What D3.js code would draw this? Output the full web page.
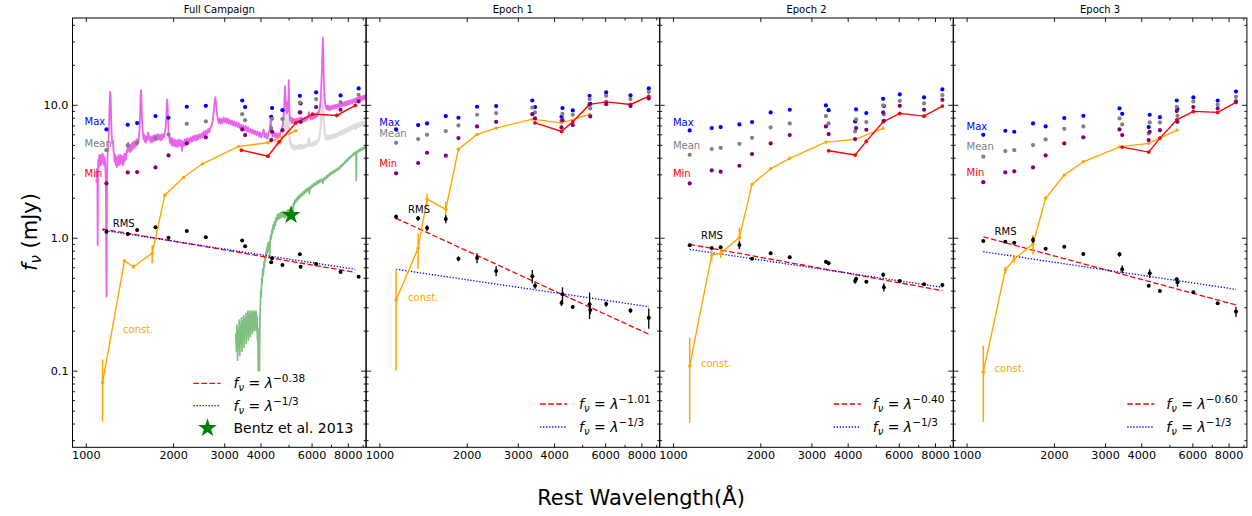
<!DOCTYPE html>
<html>
<head>
<meta charset="utf-8">
<script src="https://cdn.jsdelivr.net/npm/d3@7"></script>
<style>
  body { margin: 0; background: #fff; }
  svg { display: block; font-family: "DejaVu Sans", sans-serif; }
</style>
</head>
<body>
<svg id="chart" width="1252" height="516"></svg>
<script>
/* ---- data ---- */

// band wavelengths (rest frame) and the observed-frame ones used in the first panel
const bandWave = [1142, 1360, 1460, 1694, 1873, 2171, 2526, 3366, 3439, 4244, 4277, 4639, 5302, 5331, 6048, 7336, 8482];
const bandWaveObs = [1178, 1395, 1503, 1739, 1928, 2229, 2593, 3460, 3541, 4356, 4386, 4762, 5468, 5498, 6222, 7553, 8717];
const constWave = [1142, 1360, 1460, 1694, 1873, 2171, 2526, 3366, 4244, 5302];
const redWave = [3439, 4244, 4639, 5302, 6048, 7336, 8482];
const fitWave = [1142, 8482];

// Full campaign
const maxFull = [6.53, 7.08, 7.29, 8.23, 7.99, 9.67, 9.83, 10.78, 9.61, 8.13, 9.45, 9.12, 11.69, 10.24, 12.39, 11.76, 13.28];
const meanFull = [4.56, 4.95, 5.18, 5.59, 5.99, 7.20, 7.50, 8.51, 7.67, 6.64, 7.85, 7.81, 10.4, 8.76, 11.04, 10.5, 11.9];
const minFull = [2.56, 3.10, 3.12, 3.38, 4.16, 5.12, 5.69, 6.53, 5.92, 5.43, 6.27, 6.45, 8.76, 7.45, 9.61, 9.18, 10.60];
const rmsFull = [1.109, 1.066, 1.143, 1.197, 1.0, 1.123, 1.007, 0.953, 0.862, 0.653, 0.700, 0.623, 0.750, 0.605, 0.634, 0.552, 0.509];
const rmsErrFull = [0.01, 0.01, 0.01, 0.015, 0.01, 0.01, 0.01, 0.01, 0.01, 0.01, 0.01, 0.005, 0.01, 0.01, 0.005, 0.005, 0.008];
const constFull = [0.0813, 0.668, 0.605, 0.763, 2.09, 2.84, 3.60, 4.87, 5.18, 6.38];
const constErrFull = [0.04, 0.02, 0.02, 0.12, 0.03, 0.03, 0.03, 0.03, 0.03, 0.03];
const redFull = [4.56, 4.11, 5.27, 7.32, 8.51, 8.32, 9.90];
const fitRedFull = [1.163, 0.549];
const fitBlueFull = [1.14, 0.579];

// Epoch 1
const maxE1 = [6.53, 7.04, 7.24, 8.23, 7.99, 9.67, 9.78, 10.78, 9.61, 8.13, 9.45, 9.07, 11.69, 10.18, 12.39, 11.76, 13.28];
const meanE1 = [5.18, 5.52, 5.95, 6.34, 7.00, 8.42, 8.66, 9.55, 8.76, 7.63, 8.56, 8.42, 11.04, 9.39, 11.69, 11.04, 12.53];
const minE1 = [3.05, 3.65, 4.36, 4.14, 5.62, 6.88, 7.45, 8.51, 7.90, 6.76, 7.67, 7.04, 10.06, 8.18, 10.12, 9.78, 11.16];
const rmsE1 = [1.438, 1.399, 1.183, 1.382, 0.694, 0.704, 0.562, 0.513, 0.436, 0.323, 0.375, 0.301, 0.316, 0.286, 0.317, 0.283, 0.250];
const rmsErrE1 = [0.06, 0.06, 0.06, 0.095, 0.03, 0.06, 0.05, 0.058, 0.023, 0.017, 0.049, 0.008, 0.071, 0.02, 0.014, 0.012, 0.043];
const constE1 = [0.340, 0.832, 1.954, 1.635, 4.64, 5.99, 6.68, 7.81, 7.32, 8.47];
const constErrE1 = [0.24, 0.25, 0.2, 0.24, 0.05, 0.05, 0.05, 0.05, 0.05, 0.05];
const redE1 = [7.32, 6.31, 7.45, 10.07, 10.53, 10.07, 11.57];
const fitRedE1 = [1.40, 0.188];
const fitBlueE1 = [0.579, 0.303];

// Epoch 2
const maxE2 = [6.42, 6.68, 6.80, 7.12, 7.41, 8.76, 9.18, 9.89, 9.12, 7.50, 9.23, 8.66, 11.10, 9.78, 11.97, 11.36, 13.05];
const meanE2 = [4.21, 4.65, 4.75, 5.09, 5.65, 6.76, 7.24, 8.23, 7.24, 6.31, 7.76, 7.41, 9.89, 8.47, 10.72, 10.24, 11.83];
const minE2 = [2.56, 3.21, 3.14, 3.48, 4.26, 5.12, 5.92, 6.88, 6.02, 5.52, 6.68, 6.49, 8.76, 7.59, 9.83, 9.18, 10.91];
const rmsE2 = [0.877, 0.837, 0.848, 0.881, 0.695, 0.763, 0.712, 0.660, 0.642, 0.473, 0.489, 0.467, 0.527, 0.424, 0.473, 0.446, 0.441];
const rmsErrE2 = [0.015, 0.015, 0.02, 0.06, 0.012, 0.02, 0.02, 0.02, 0.02, 0.022, 0.02, 0.01, 0.02, 0.03, 0.01, 0.01, 0.012];
const constE2 = [0.1085, 0.741, 0.763, 1.007, 2.52, 3.30, 3.96, 5.24, 5.50, 6.65];
const constErrE2 = [0.068, 0.065, 0.06, 0.18, 0.03, 0.03, 0.03, 0.03, 0.03, 0.03];
const redE2 = [4.51, 4.19, 5.31, 7.45, 8.62, 8.22, 9.78];
const fitRedE2 = [0.892, 0.40];
const fitBlueE2 = [0.818, 0.424];

// Epoch 3
const maxE3 = [5.95, 6.38, 6.27, 7.24, 6.88, 7.95, 8.27, 9.39, 8.56, 6.80, 8.42, 8.08, 10.78, 9.34, 11.36, 10.78, 12.60];
const meanE3 = [4.07, 4.49, 4.56, 4.98, 5.49, 6.60, 6.88, 7.90, 7.12, 6.09, 7.37, 7.37, 9.67, 8.27, 10.60, 10.06, 11.49];
const minE3 = [2.62, 3.10, 3.16, 3.38, 4.16, 5.12, 5.69, 6.53, 5.92, 5.43, 6.27, 6.45, 8.97, 7.45, 9.61, 9.39, 10.60];
const rmsE3 = [0.944, 0.932, 0.917, 0.961, 0.827, 0.856, 0.754, 0.750, 0.579, 0.436, 0.540, 0.397, 0.487, 0.462, 0.389, 0.321, 0.278];
const rmsErrE3 = [0.012, 0.012, 0.015, 0.05, 0.02, 0.02, 0.012, 0.03, 0.04, 0.01, 0.04, 0.008, 0.012, 0.035, 0.008, 0.008, 0.025];
const constE3 = [0.0973, 0.572, 0.692, 0.897, 1.98, 2.96, 3.73, 4.83, 5.13, 6.45];
const constErrE3 = [0.056, 0.035, 0.05, 0.15, 0.03, 0.03, 0.03, 0.03, 0.03, 0.03];
const redE3 = [4.81, 4.41, 5.62, 7.71, 8.92, 8.77, 10.42];
const fitRedE3 = [1.017, 0.312];
const fitBlueE3 = [0.785, 0.409];

// Bentz et al. 2013 host flux at 5100 A
const bentzPoint = [5100, 1.48];

// spectra in the first panel: [wavelength, flux]
const meanSpec = [[1088,2.6],[1092,3.3],[1096,3.0],[1099,0.88],[1102,3.5],[1106,3.9],[1110,3.4],[1114,4.2],[1118,3.6],[1123,4.1],[1128,3.5],[1133,4.2],[1138,3.7],[1143,4.3],[1148,3.6],[1153,4.1],[1158,3.5],[1163,4.0],[1168,3.3],[1173,2.6],[1177,0.6],[1179,0.36],[1181,0.8],[1184,2.9],[1188,4.0],[1193,4.6],[1198,5.4],[1203,7.0],[1208,9.8],[1213,12.5],[1218,11.8],[1223,8.0],[1228,6.0],[1234,5.1],[1240,5.4],[1246,4.6],[1252,4.2],[1258,3.7],[1264,4.2],[1270,3.5],[1276,4.0],[1282,3.4],[1288,4.1],[1294,3.6],[1300,4.2],[1306,3.5],[1312,4.0],[1318,3.6],[1324,4.2],[1330,3.7],[1336,4.1],[1342,3.5],[1348,4.1],[1354,3.7],[1360,4.3],[1366,3.8],[1372,4.3],[1378,3.9],[1384,4.5],[1390,4.4],[1396,5.0],[1402,5.2],[1408,4.5],[1414,5.0],[1420,4.4],[1427,5.0],[1434,4.5],[1441,5.1],[1448,4.6],[1455,5.2],[1462,4.7],[1469,5.3],[1476,4.8],[1483,5.3],[1490,4.9],[1497,5.5],[1504,5.0],[1511,5.5],[1518,5.2],[1525,5.8],[1532,6.6],[1539,8.5],[1545,11.5],[1550,12.9],[1555,11.0],[1561,8.2],[1567,6.8],[1574,6.1],[1581,5.5],[1588,6.0],[1595,5.3],[1603,5.8],[1611,5.2],[1619,5.7],[1627,5.4],[1635,6.0],[1642,6.2],[1650,5.8],[1658,5.4],[1667,5.8],[1676,5.2],[1685,5.7],[1694,5.3],[1703,5.8],[1712,5.3],[1721,5.9],[1730,5.4],[1740,5.9],[1750,5.4],[1760,6.0],[1770,5.5],[1780,6.0],[1790,5.5],[1800,5.9],[1812,5.4],[1824,6.0],[1836,5.5],[1848,6.0],[1860,5.7],[1872,6.2],[1884,6.6],[1895,8.2],[1903,10.2],[1909,11.0],[1915,9.5],[1922,7.4],[1930,6.2],[1940,5.6],[1950,5.2],[1962,5.7],[1974,5.0],[1986,5.6],[1998,4.9],[2012,5.5],[2026,4.9],[2040,5.4],[2055,4.8],[2070,5.4],[2085,4.9],[2100,5.5],[2116,4.9],[2132,5.4],[2148,4.5],[2164,5.3],[2180,4.9],[2196,5.5],[2213,5.0],[2230,5.6],[2248,5.1],[2266,5.6],[2284,5.2],[2303,5.7],[2322,5.3],[2341,5.8],[2360,5.4],[2380,5.9],[2400,5.4],[2420,5.9],[2441,5.5],[2462,6.0],[2483,5.6],[2505,6.1],[2527,5.7],[2549,6.3],[2572,5.8],[2595,6.4],[2618,6.0],[2641,6.6],[2665,6.2],[2689,6.8],[2713,6.9],[2738,7.6],[2762,9.0],[2784,10.8],[2798,11.4],[2812,10.4],[2830,8.8],[2850,7.8],[2872,7.3],[2894,7.9],[2916,7.2],[2939,7.8],[2962,7.3],[2986,8.0],[3010,7.4],[3035,7.9],[3060,7.3],[3086,7.9],[3112,7.2],[3138,7.7],[3165,7.1],[3192,7.6],[3220,7.0],[3248,7.5],[3277,6.9],[3306,7.4],[3336,6.8],[3366,7.3],[3397,6.7],[3428,7.1],[3460,6.5],[3492,7.0],[3525,6.4],[3558,6.9],[3592,6.3],[3626,6.8],[3660,6.2],[3695,6.6],[3730,6.1],[3766,6.5],[3802,6.0],[3838,6.4],[3875,5.9],[3912,6.3],[3950,5.8],[3988,6.2],[4026,5.7],[4065,6.1],[4102,6.5],[4140,5.7],[4180,6.1],[4220,5.6],[4260,6.1],[4300,6.4],[4325,7.2],[4340,8.0],[4358,7.0],[4385,6.2],[4420,5.8],[4460,6.2],[4500,5.7],[4540,6.1],[4580,5.6],[4620,6.1],[4660,5.8],[4700,6.3],[4740,6.5],[4780,7.2],[4815,8.8],[4845,12.0],[4861,13.8],[4880,11.5],[4910,9.0],[4940,8.6],[4959,10.5],[4980,9.0],[4995,11.5],[5007,15.3],[5020,11.0],[5040,8.5],[5065,7.6],[5095,8.0],[5125,7.3],[5155,7.9],[5186,7.3],[5217,7.8],[5248,7.2],[5280,7.8],[5312,7.3],[5345,7.9],[5378,7.4],[5411,7.9],[5445,7.4],[5479,8.0],[5513,7.5],[5548,8.0],[5583,7.4],[5618,7.9],[5654,7.5],[5690,8.0],[5726,7.6],[5763,8.1],[5800,7.7],[5840,8.2],[5876,8.8],[5910,8.0],[5950,7.8],[5990,8.3],[6030,7.8],[6070,8.4],[6110,7.9],[6150,8.5],[6190,8.0],[6230,8.6],[6270,8.2],[6310,8.8],[6350,8.6],[6390,9.2],[6420,9.8],[6450,11.0],[6480,13.5],[6510,18.0],[6540,25.0],[6563,32.0],[6585,24.0],[6610,16.0],[6640,12.0],[6675,10.4],[6710,9.8],[6750,9.3],[6790,9.9],[6830,9.2],[6870,9.8],[6910,9.1],[6950,9.7],[6990,9.2],[7030,9.8],[7075,9.3],[7120,9.9],[7165,9.4],[7210,10.0],[7255,9.4],[7300,10.0],[7350,9.5],[7400,10.1],[7450,9.6],[7500,10.2],[7550,9.7],[7600,10.3],[7650,9.8],[7700,10.4],[7755,9.8],[7810,10.5],[7865,9.9],[7920,10.6],[7975,10.0],[8030,10.7],[8085,10.1],[8140,10.8],[8195,10.2],[8250,10.9],[8305,10.3],[8360,11.0],[8415,10.5],[8470,11.1],[8530,10.4],[8590,11.3],[8650,10.6],[8710,11.4],[8770,10.7],[8830,11.5],[8890,10.8],[8950,11.6],[9010,10.9],[9070,11.7],[9130,11.0],[9190,11.8],[9240,11.2]];

const agnSpec = [[3980,6.0],[4020,5.7],[4060,5.9],[4102,6.3],[4140,5.7],[4180,5.8],[4220,5.5],[4260,5.7],[4300,6.0],[4325,6.5],[4340,7.0],[4358,6.3],[4385,5.7],[4420,5.4],[4460,5.5],[4500,5.2],[4540,5.3],[4580,5.0],[4620,5.2],[4660,5.0],[4700,5.2],[4740,5.4],[4780,5.9],[4815,6.8],[4845,8.3],[4861,9.0],[4880,7.8],[4910,6.4],[4940,6.1],[4959,7.2],[4980,6.3],[4995,7.8],[5007,10.0],[5020,7.3],[5040,5.8],[5065,5.1],[5095,5.2],[5125,4.8],[5155,5.0],[5186,4.7],[5217,4.9],[5248,4.6],[5280,4.9],[5312,4.7],[5345,4.9],[5378,4.7],[5411,4.9],[5445,4.7],[5479,5.0],[5513,4.7],[5548,5.0],[5583,4.7],[5618,4.9],[5654,4.8],[5690,5.0],[5726,4.8],[5763,5.0],[5800,4.9],[5840,5.1],[5876,5.6],[5910,5.0],[5950,4.9],[5990,5.1],[6030,4.9],[6070,5.2],[6110,5.0],[6150,5.2],[6190,5.0],[6230,5.3],[6270,5.2],[6310,5.4],[6350,5.4],[6390,5.8],[6420,6.2],[6450,6.8],[6480,8.0],[6510,9.5],[6540,11.0],[6563,12.0],[6585,10.0],[6610,8.0],[6640,6.8],[6675,6.0],[6710,5.7],[6750,5.5],[6790,5.8],[6830,5.5],[6870,5.8],[6910,5.5],[6950,5.8],[6990,5.6],[7030,5.9],[7075,5.6],[7120,5.9],[7165,5.7],[7210,6.0],[7255,5.7],[7300,6.0],[7350,5.8],[7400,6.1],[7450,5.9],[7500,6.2],[7550,6.0],[7600,6.3],[7650,6.0],[7700,6.4],[7755,6.1],[7810,6.5],[7865,6.2],[7920,6.6],[7975,6.3],[8030,6.7],[8085,6.4],[8140,6.8],[8195,6.5],[8250,6.9],[8305,6.6],[8360,7.0],[8415,6.7],[8470,7.1],[8530,6.6],[8590,7.2],[8650,6.8],[8710,7.2],[8770,6.9],[8830,7.3],[8890,7.0],[8950,7.4],[9010,7.0],[9070,7.4],[9130,7.1],[9190,7.5],[9240,7.2]];

const hostSpec = [[3290,0.19],[3305,0.14],[3320,0.22],[3335,0.12],[3350,0.20],[3365,0.15],[3380,0.24],[3395,0.13],[3410,0.22],[3425,0.16],[3440,0.25],[3455,0.14],[3470,0.23],[3485,0.18],[3500,0.26],[3515,0.15],[3530,0.24],[3545,0.19],[3560,0.27],[3575,0.16],[3590,0.25],[3605,0.20],[3620,0.28],[3635,0.17],[3650,0.26],[3665,0.21],[3680,0.28],[3695,0.18],[3710,0.26],[3725,0.21],[3740,0.28],[3755,0.19],[3770,0.27],[3785,0.22],[3800,0.28],[3815,0.20],[3830,0.27],[3845,0.23],[3860,0.28],[3875,0.20],[3890,0.26],[3905,0.17],[3920,0.21],[3933,0.10],[3945,0.16],[3958,0.13],[3968,0.10],[3980,0.21],[3995,0.30],[4010,0.40],[4025,0.36],[4040,0.50],[4055,0.45],[4070,0.58],[4085,0.52],[4100,0.55],[4115,0.66],[4130,0.60],[4145,0.72],[4160,0.66],[4175,0.78],[4190,0.71],[4205,0.84],[4220,0.76],[4235,0.90],[4250,0.80],[4270,0.93],[4290,0.85],[4305,0.72],[4320,0.95],[4340,1.05],[4360,0.98],[4380,1.15],[4400,1.08],[4425,1.25],[4450,1.16],[4475,1.32],[4500,1.24],[4525,1.42],[4550,1.33],[4580,1.50],[4610,1.38],[4640,1.52],[4670,1.40],[4700,1.55],[4730,1.42],[4760,1.56],[4790,1.44],[4820,1.58],[4850,1.40],[4880,1.55],[4910,1.45],[4940,1.60],[4970,1.48],[5000,1.62],[5030,1.50],[5060,1.64],[5090,1.50],[5120,1.70],[5150,1.62],[5175,1.45],[5200,1.82],[5230,1.75],[5260,1.92],[5290,1.84],[5320,1.98],[5355,1.90],[5390,2.05],[5425,1.96],[5460,2.10],[5500,2.02],[5540,2.16],[5580,2.08],[5620,2.22],[5660,2.14],[5700,2.28],[5740,2.20],[5780,2.34],[5820,2.26],[5860,2.38],[5895,2.15],[5930,2.40],[5970,2.34],[6010,2.48],[6050,2.40],[6090,2.54],[6130,2.46],[6170,2.58],[6210,2.50],[6250,2.64],[6290,2.55],[6330,2.68],[6370,2.60],[6410,2.72],[6450,2.64],[6490,2.76],[6530,2.66],[6563,2.58],[6600,2.80],[6640,2.72],[6680,2.85],[6720,2.78],[6760,2.92],[6800,2.84],[6840,2.98],[6880,2.90],[6920,3.05],[6960,2.96],[7000,3.10],[7050,3.02],[7100,3.16],[7150,3.08],[7200,3.22],[7250,3.14],[7300,3.28],[7350,3.20],[7400,3.34],[7450,3.26],[7500,3.42],[7550,3.36],[7600,3.52],[7650,3.45],[7700,3.62],[7750,3.55],[7800,3.72],[7850,3.66],[7900,3.84],[7950,3.76],[8000,3.94],[8050,3.86],[8100,4.04],[8150,3.96],[8200,4.14],[8250,4.06],[8300,4.24],[8350,4.16],[8400,4.34],[8450,4.26],[8500,4.42],[8540,4.10],[8560,2.70],[8580,4.30],[8620,4.48],[8660,4.38],[8700,4.56],[8750,4.46],[8800,4.62],[8850,4.52],[8900,4.68],[8950,4.58],[9000,4.74],[9050,4.64],[9100,4.80],[9150,4.70],[9200,4.86],[9240,4.78]];

// axis ticks
const xMajor = [1000, 2000, 3000, 4000, 6000, 8000];
const xMinor = [5000, 7000, 9000];
const yMajor = [0.1, 1, 10];
const yMinor = [0.03, 0.04, 0.05, 0.06, 0.07, 0.08, 0.09, 0.2, 0.3, 0.4, 0.5, 0.6, 0.7, 0.8, 0.9, 2, 3, 4, 5, 6, 7, 8, 9, 20, 30, 40];

/* ---- layout ---- */
const panelLeft = 72.5;
const panelW = 293.6;
const plotTop = 18;
const plotBottom = 447.3;

const x = d3.scaleLog().domain([900, 9250]).range([0, panelW]);
const y = d3.scaleLog().domain([0.0265, 45]).range([plotBottom, plotTop]);

const panels = [
  { title: "Full Campaign", wave: bandWaveObs, max: maxFull, mean: meanFull, min: minFull, rms: rmsFull, rmsErr: rmsErrFull,
    cnst: constFull, cnstErr: constErrFull, red: redFull, fitR: fitRedFull, fitB: fitBlueFull, slope: "\u22120.38", spectra: true },
  { title: "Epoch 1", wave: bandWave, max: maxE1, mean: meanE1, min: minE1, rms: rmsE1, rmsErr: rmsErrE1,
    cnst: constE1, cnstErr: constErrE1, red: redE1, fitR: fitRedE1, fitB: fitBlueE1, slope: "\u22121.01" },
  { title: "Epoch 2", wave: bandWave, max: maxE2, mean: meanE2, min: minE2, rms: rmsE2, rmsErr: rmsErrE2,
    cnst: constE2, cnstErr: constErrE2, red: redE2, fitR: fitRedE2, fitB: fitBlueE2, slope: "\u22120.40" },
  { title: "Epoch 3", wave: bandWave, max: maxE3, mean: meanE3, min: minE3, rms: rmsE3, rmsErr: rmsErrE3,
    cnst: constE3, cnstErr: constErrE3, red: redE3, fitR: fitRedE3, fitB: fitBlueE3, slope: "\u22120.60" }
];

// text annotations, in data coordinates
const labelSpots = [
  { max: [990, 7.03], mean: [990, 4.78], min: [990, 2.87], rms: [1239, 1.21], cnst: [1345, 0.191] },
  { max: [1000, 6.95], mean: [1000, 5.69], min: [1000, 3.38], rms: [1256, 1.54], cnst: [1256, 0.336] },
  { max: [1000, 6.9], mean: [1000, 4.69], min: [1000, 2.84], rms: [1249, 0.978], cnst: [1249, 0.107] },
  { max: [1000, 6.45], mean: [1000, 4.56], min: [1000, 2.92], rms: [1249, 1.05], cnst: [1249, 0.0973] }
];

const svg = d3.select("#chart");
const line = d3.line().x((d) => x(d[0])).y((d) => y(d[1]));
const zip = (a, b) => a.map((v, i) => [v, b[i]]);

svg.append("defs").append("clipPath").attr("id", "plotClip")
  .append("rect").attr("x", 0).attr("y", plotTop).attr("width", panelW).attr("height", plotBottom - plotTop);

function errorBars(g, xs, vals, errs, color, width) {
  g.selectAll(null)
    .data(vals.map((v, i) => ({ w: xs[i], v: v, e: errs[i] })))
    .enter()
    .append("line")
    .attr("x1", (d) => x(d.w))
    .attr("x2", (d) => x(d.w))
    .attr("y1", (d) => y(Math.max(d.v - d.e, 0.0266)))
    .attr("y2", (d) => y(d.v + d.e))
    .attr("stroke", color)
    .attr("stroke-width", width);
}

function dots(g, xs, vals, color, r) {
  g.selectAll(null)
    .data(zip(xs, vals))
    .enter()
    .append("circle")
    .attr("cx", (d) => x(d[0]))
    .attr("cy", (d) => y(d[1]))
    .attr("r", r)
    .attr("fill", color);
}

// f_nu = lambda^exp as a text element
function powerText(sel, exp) {
  sel.append("tspan").attr("font-style", "italic").text("f");
  sel.append("tspan").attr("font-style", "italic").attr("font-size", 10).attr("dy", 3).text("\u03bd");
  sel.append("tspan").attr("dy", -3).text(" = ");
  sel.append("tspan").attr("font-style", "italic").text("\u03bb");
  sel.append("tspan").attr("font-size", 10.5).attr("dy", -6).text(exp);
}

function styleAxis(s) {
  s.select(".domain").remove();
  s.attr("font-family", "DejaVu Sans, sans-serif").attr("font-size", 11.2);
  s.selectAll("line").attr("stroke", "#000").attr("stroke-width", 0.9);
  s.selectAll("text").attr("fill", "#000");
}

panels.forEach((p, i) => {
  const g = svg.append("g").attr("transform", `translate(${panelLeft + i * panelW},0)`);
  const plot = g.append("g").attr("clip-path", "url(#plotClip)");

  if (p.spectra) {
    plot.append("path").datum(agnSpec).attr("d", line)
      .attr("fill", "none").attr("stroke", "#dcdcdc").attr("stroke-width", 2.4).attr("stroke-linejoin", "round");
    plot.append("path").datum(meanSpec).attr("d", line)
      .attr("fill", "none").attr("stroke", "#ea64ea").attr("stroke-width", 1.8).attr("stroke-linejoin", "round");
    plot.append("path").datum(hostSpec).attr("d", line)
      .attr("fill", "none").attr("stroke", "#7fbf7f").attr("stroke-width", 1.7).attr("stroke-linejoin", "round");
  }

  // power-law fits
  plot.append("path").datum(zip(fitWave, p.fitR)).attr("d", line)
    .attr("fill", "none").attr("stroke", "#ff0000").attr("stroke-width", 1.3).attr("stroke-dasharray", "5.5,2.5");
  plot.append("path").datum(zip(fitWave, p.fitB)).attr("d", line)
    .attr("fill", "none").attr("stroke", "#0000ff").attr("stroke-width", 1.3).attr("stroke-dasharray", "1.3,1.7");

  // constant component
  errorBars(plot, constWave, p.cnst, p.cnstErr, "#ffa500", 1.5);
  plot.append("path").datum(zip(constWave, p.cnst)).attr("d", line)
    .attr("fill", "none").attr("stroke", "#ffa500").attr("stroke-width", 1.4);
  dots(plot, constWave, p.cnst, "#ffa500", 1.7);

  // red line
  plot.append("path").datum(zip(redWave, p.red)).attr("d", line)
    .attr("fill", "none").attr("stroke", "#ff0000").attr("stroke-width", 1.4);
  dots(plot, redWave, p.red, "#ff0000", 1.9);

  // max / mean / min
  dots(plot, p.wave, p.max, "#0000ff", 2.1);
  dots(plot, p.wave, p.mean, "#808080", 2.1);
  dots(plot, p.wave, p.min, "#800080", 2.1);

  // rms
  errorBars(plot, p.wave, p.rms, p.rmsErr, "#000", 1.3);
  dots(plot, p.wave, p.rms, "#000", 2.0);

  if (p.spectra) {
    plot.append("path")
      .attr("d", d3.symbol(d3.symbolStar, 110)())
      .attr("transform", `translate(${x(bentzPoint[0])},${y(bentzPoint[1])})`)
      .attr("fill", "#008000");
  }

  // annotations
  const spot = labelSpots[i];
  const note = (pos, txt, color) =>
    g.append("text").attr("x", x(pos[0])).attr("y", y(pos[1]))
      .attr("font-size", 10).attr("fill", color).text(txt);
  note(spot.max, "Max", "#0000ff");
  note(spot.mean, "Mean", "#808080");
  note(spot.min, "Min", "#ff0000");
  note(spot.rms, "RMS", "#000");
  note(spot.cnst, "const.", "#ffa500");

  // axes
  g.append("g").attr("transform", `translate(0,${plotBottom})`)
    .call(d3.axisBottom(x).tickValues(xMajor).tickSize(-4).tickPadding(4).tickFormat(d3.format("d")))
    .call(styleAxis);
  g.append("g").attr("transform", `translate(0,${plotBottom})`)
    .call(d3.axisBottom(x).tickValues(xMinor).tickSize(-2.5).tickFormat(""))
    .call(styleAxis);
  g.append("g").attr("transform", `translate(0,${plotTop})`)
    .call(d3.axisTop(x).tickValues(xMajor).tickSize(-4).tickFormat(""))
    .call(styleAxis);
  g.append("g").attr("transform", `translate(0,${plotTop})`)
    .call(d3.axisTop(x).tickValues(xMinor).tickSize(-2.5).tickFormat(""))
    .call(styleAxis);
  g.append("g")
    .call(d3.axisLeft(y).tickValues(yMajor).tickSize(-5).tickPadding(4)
      .tickFormat(i === 0 ? d3.format(".1f") : () => ""))
    .call(styleAxis);
  g.append("g")
    .call(d3.axisLeft(y).tickValues(yMinor).tickSize(-2.5).tickFormat(""))
    .call(styleAxis);
  g.append("g").attr("transform", `translate(${panelW},0)`)
    .call(d3.axisRight(y).tickValues(yMajor).tickSize(-5).tickFormat(""))
    .call(styleAxis);
  g.append("g").attr("transform", `translate(${panelW},0)`)
    .call(d3.axisRight(y).tickValues(yMinor).tickSize(-2.5).tickFormat(""))
    .call(styleAxis);

  g.append("rect").attr("x", 0).attr("y", plotTop).attr("width", panelW).attr("height", plotBottom - plotTop)
    .attr("fill", "none").attr("stroke", "#000").attr("stroke-width", 1);

  g.append("text").attr("x", panelW / 2).attr("y", 12.7).attr("text-anchor", "middle")
    .attr("font-size", 10).text(p.title);

  // legend
  const lg = i === 0 ? { lx: 121, tx: 161, y0: 383.3, dy: 22.4 } : { lx: 174, tx: 213, y0: 404, dy: 23 };
  const rows = [
    { dash: "5.5,2.5", color: "#ff0000", exp: p.slope },
    { dash: "1.3,1.7", color: "#0000ff", exp: "\u22121/3" }
  ];
  rows.forEach((r, k) => {
    const yy = lg.y0 + k * lg.dy;
    g.append("line").attr("x1", lg.lx).attr("x2", lg.lx + 27).attr("y1", yy).attr("y2", yy)
      .attr("stroke", r.color).attr("stroke-width", 1.3).attr("stroke-dasharray", r.dash);
    powerText(g.append("text").attr("x", lg.tx).attr("y", yy + 5).attr("font-size", 14), r.exp);
  });
  if (p.spectra) {
    const yy = lg.y0 + 2 * lg.dy;
    g.append("path").attr("d", d3.symbol(d3.symbolStar, 110)())
      .attr("transform", `translate(${lg.lx + 14},${yy})`).attr("fill", "#008000");
    g.append("text").attr("x", lg.tx).attr("y", yy + 5).attr("font-size", 14).text("Bentz et al. 2013");
  }
});

// axis titles
const yTitle = svg.append("text").attr("transform", "translate(37,232) rotate(-90)")
  .attr("text-anchor", "middle").attr("font-size", 21);
yTitle.append("tspan").attr("font-style", "italic").text("f");
yTitle.append("tspan").attr("font-style", "italic").attr("font-size", 15).attr("dy", 4).text("\u03bd");
yTitle.append("tspan").attr("dy", -4).text(" (mJy)");

svg.append("text").attr("x", 641).attr("y", 505).attr("text-anchor", "middle")
  .attr("font-size", 21).text("Rest Wavelength(\u00c5)");
</script>
</body>
</html>
